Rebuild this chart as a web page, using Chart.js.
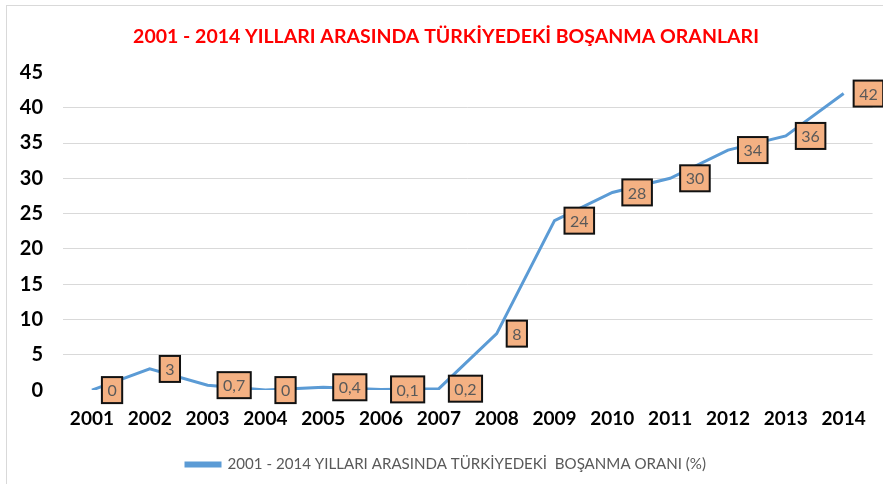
<!DOCTYPE html>
<html>
<head>
<meta charset="utf-8">
<script src="https://cdn.jsdelivr.net/npm/chart.js@4.4.0/dist/chart.umd.min.js"></script>
<style>
    html, body { margin: 0; padding: 0; background: #ffffff; }
    #wrap {
        position: relative;
        width: 883px;
        height: 484px;
        overflow: hidden;
    }
    #frame {
        position: absolute;
        left: 6px;
        top: 5px;
        width: 900px;
        height: 500px;
        border: 1px solid #d9d9d9;
        box-sizing: border-box;
    }
    #chart { position: absolute; left: 0; top: 0; }
</style>
</head>
<body>
<div id="wrap">
    <div id="frame"></div>
    <canvas id="chart" width="883" height="484"></canvas>
</div>
<script>
// ===================================
// Türkiye boşanma oranları 2001 - 2014
// ===================================

const years = ['2001', '2002', '2003', '2004', '2005', '2006', '2007',
               '2008', '2009', '2010', '2011', '2012', '2013', '2014'];
const rates = [0, 3, 0.7, 0, 0.4, 0.1, 0.2, 8, 24, 28, 30, 34, 36, 42];
const yTicks = [0, 5, 10, 15, 20, 25, 30, 35, 40, 45];

const chartTitle = '2001 - 2014 YILLARI ARASINDA TÜRKİYEDEKİ BOŞANMA ORANLARI';
const seriesName = '2001 - 2014 YILLARI ARASINDA TÜRKİYEDEKİ  BOŞANMA ORANI (%)';

const FONT = 'Lato, "Open Sans", sans-serif';

// Virgüllü ondalık (0,7 gibi)
function formatRate(v) {
    return String(v).replace('.', ',');
}

// Turuncu kutulu veri etiketleri
const boxLabels = {
    id: 'boxLabels',
    afterDatasetsDraw(chart) {
        const ctx = chart.ctx;
        const meta = chart.getDatasetMeta(0);
        ctx.save();
        ctx.font = '16px ' + FONT;
        ctx.textBaseline = 'middle';
        ctx.textAlign = 'center';
        meta.data.forEach(function(pt, i) {
            const text = formatRate(rates[i]);
            const w = ctx.measureText(text).width + 11;
            const h = 26;
            const left = pt.x + 10;
            const top = pt.y - h / 2;
            ctx.fillStyle = '#f4b183';
            ctx.fillRect(left, top, w, h);
            ctx.lineWidth = 2;
            ctx.strokeStyle = '#111111';
            ctx.strokeRect(left, top, w, h);
            ctx.fillStyle = '#595959';
            ctx.fillText(text, left + w / 2, pt.y + 1);
        });
        ctx.restore();
    }
};

const ctx = document.getElementById('chart');

new Chart(ctx, {
    type: 'line',
    data: {
        labels: years,
        datasets: [{
            label: seriesName,
            data: rates,
            borderColor: '#5b9bd5',
            backgroundColor: '#5b9bd5',
            borderWidth: 3,
            pointRadius: 0,
            tension: 0
        }]
    },
    options: {
        responsive: false,
        animation: false,
        layout: {
            // sol boşluk başlığı ve açıklamayı biraz sağa kaydırır
            padding: { left: 18, right: 9, top: 3, bottom: 2 }
        },
        plugins: {
            title: {
                display: true,
                text: chartTitle,
                color: '#ff0000',
                font: { family: FONT, size: 19.5, weight: 'bold' },
                padding: { top: 22, bottom: 24 }
            },
            legend: {
                position: 'bottom',
                labels: {
                    boxWidth: 34,
                    boxHeight: 3,
                    padding: 10,
                    color: '#595959',
                    font: { family: FONT, size: 15.1 }
                }
            },
            tooltip: { enabled: false }
        },
        scales: {
            x: {
                offset: true,
                grid: { display: false, drawTicks: false },
                border: { display: false },
                ticks: {
                    color: '#000000',
                    padding: 17,
                    maxRotation: 0,
                    font: { family: FONT, size: 19, weight: 'bold' }
                }
            },
            y: {
                min: 0,
                max: 45,
                afterBuildTicks: function(axis) {
                    axis.ticks = yTicks.map(function(v) { return { value: v }; });
                },
                afterFit: function(axis) {
                    axis.width = 45;
                },
                grid: {
                    drawTicks: false,
                    color: function(c) {
                        return (c.tick && (c.tick.value === 0 || c.tick.value === 45)) ? 'rgba(0,0,0,0)' : '#d9d9d9';
                    }
                },
                border: { display: false },
                ticks: {
                    color: '#000000',
                    padding: 20,
                    font: { family: FONT, size: 20, weight: 'bold' }
                }
            }
        }
    },
    plugins: [boxLabels]
});
</script>
</body>
</html>
